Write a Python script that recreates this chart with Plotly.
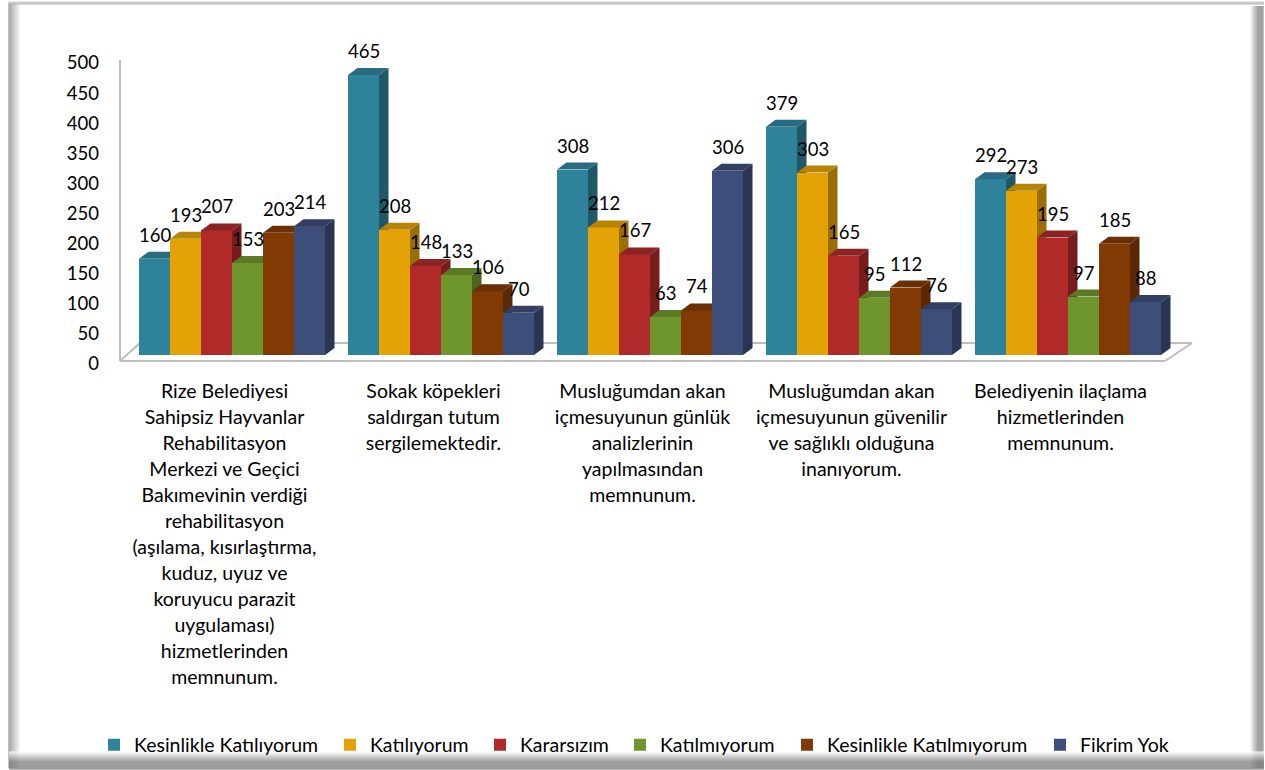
import plotly.graph_objects as go

categories = [
    ["Rize Belediyesi", "Sahipsiz Hayvanlar", "Rehabilitasyon", "Merkezi ve Geçici", "Bakımevinin verdiği", "rehabilitasyon",
     "(aşılama, kısırlaştırma,", "kuduz, uyuz ve", "koruyucu parazit", "uygulaması)", "hizmetlerinden", "memnunum."],
    ["Sokak köpekleri", "saldırgan tutum", "sergilemektedir."],
    ["Musluğumdan akan", "içmesuyunun günlük", "analizlerinin", "yapılmasından", "memnunum."],
    ["Musluğumdan akan", "içmesuyunun güvenilir", "ve sağlıklı olduğuna", "inanıyorum."],
    ["Belediyenin ilaçlama", "hizmetlerinden", "memnunum."],
]
kesinlikle_katiliyorum = [160, 465, 308, 379, 292]
katiliyorum = [193, 208, 212, 303, 273]
kararsizim = [207, 148, 167, 165, 195]
katilmiyorum = [153, 133, 63, 95, 97]
kesinlikle_katilmiyorum = [203, 106, 74, 112, 185]
fikrim_yok = [214, 70, 306, 76, 88]

series_names = ["Kesinlikle Katılıyorum", "Katılıyorum", "Kararsızım", "Katılmıyorum", "Kesinlikle Katılmıyorum", "Fikrim Yok"]
series_values = [kesinlikle_katiliyorum, katiliyorum, kararsizim, katilmiyorum, kesinlikle_katilmiyorum, fikrim_yok]
y_ticks = [0, 50, 100, 150, 200, 250, 300, 350, 400, 450, 500]

front_colors = ["#2E8299", "#E3A206", "#B02A2A", "#6F962E", "#823A04", "#3E4E7B"]
top_colors = ["#276C80", "#B78405", "#8D2222", "#5A7A25", "#6A2F03", "#323F63"]
side_colors = ["#1F5868", "#9A6E05", "#771C1C", "#4C6620", "#5A2803", "#2A3553"]
legend_text_px = [134, 370, 520, 660, 827, 1080]

W, H = 1265, 770
PL, PR, PT, PB = 120, 1195, 63, 364          # plot frame in pixels
CAT_PX = 209.0
PX_PER_UNIT = (PB - PT) / 500
FONT = "Lato, Carlito, sans-serif"
TEXT = "#000000"

x_range = [-0.5, -0.5 + (PR - PL) / CAT_PX]
BAR_W = 31.0 / CAT_PX
GROUP_START = (139 - 224.5) / CAT_PX
DX = 9.5 / CAT_PX
DY = 7.0 / PX_PER_UNIT
BASE_SHIFT = 9.0 / PX_PER_UNIT               # bars stand on the middle of the floor
Y_DOMAIN = [1 - PB / H, 1 - PT / H]

fig = go.Figure()
positions = list(range(len(categories)))

# keeps the left value axis alive
fig.add_trace(go.Scatter(x=[positions[0]] * len(y_ticks), y=y_ticks, mode="none", xaxis="x", yaxis="y",
                         showlegend=False, hoverinfo="skip"))

for s, (name, vals) in enumerate(zip(series_names, series_values)):
    ya = f"y{s + 2}"
    off = GROUP_START + s * BAR_W
    fig.add_trace(go.Bar(
        x=positions, y=vals, name=name, yaxis=ya, xaxis="x",
        width=BAR_W, offset=off, marker=dict(color=front_colors[s], line=dict(width=0)),
        showlegend=True, hoverinfo="name+y", legend="legend" if s == 0 else f"legend{s + 1}",
    ))
    top_x, top_y, side_x, side_y = [], [], [], []
    for p, v in zip(positions, vals):
        xl, xr = p + off, p + off + BAR_W
        top_x += [xl, xl + DX, xr + DX, xr, xl, None]
        top_y += [v, v + DY, v + DY, v, v, None]
        side_x += [xr, xr + DX, xr + DX, xr, xr, None]
        side_y += [0, DY, v + DY, v, 0, None]
    for xs, ys, col in ((side_x, side_y, side_colors[s]), (top_x, top_y, top_colors[s])):
        fig.add_trace(go.Scatter(
            x=xs, y=ys, yaxis=ya, xaxis="x", mode="lines", fill="toself",
            fillcolor=col, line=dict(width=0, color=col), showlegend=False, hoverinfo="skip",
        ))

# value labels
for s, vals in enumerate(series_values):
    off = GROUP_START + s * BAR_W + BAR_W / 2
    for p, v in zip(positions, vals):
        fig.add_annotation(
            x=p + off, y=v, xref="x", yref="y7", text=str(v), showarrow=False,
            yanchor="middle", yshift=24, font=dict(family=FONT, size=18.5, color=TEXT),
        )

layout = dict(
    width=W, height=H, margin=dict(l=0, r=0, t=0, b=0, autoexpand=False),
    paper_bgcolor="#FFFFFF", plot_bgcolor="rgba(0,0,0,0)",
    barmode="overlay", bargap=0,
    font=dict(family=FONT, size=18, color=TEXT),
    xaxis=dict(
        domain=[PL / W, PR / W], range=x_range, tickmode="array", tickvals=positions,
        ticktext=["<br>".join(f'<span style="font-size:19.5px">{l}</span>' for l in c) for c in categories],
        tickfont=dict(family=FONT, size=20, color=TEXT), tickangle=0,
        showgrid=False, zeroline=False, showline=False, ticks="", ticklabelstandoff=13,
        anchor="y",
    ),
    yaxis=dict(
        domain=Y_DOMAIN, range=[0, 500], tickmode="array", tickvals=y_ticks,
        ticktext=[str(t) for t in y_ticks], tickfont=dict(family=FONT, size=18.5, color=TEXT),
        showgrid=False, zeroline=False, showline=False, ticks="", ticklabelstandoff=20,
    ),
    showlegend=True,
)
for s in range(len(series_names)):
    layout[f"yaxis{s + 2}"] = dict(
        overlaying="y", range=[-BASE_SHIFT, 500 - BASE_SHIFT], visible=False, domain=Y_DOMAIN,
    )
    layout["legend" if s == 0 else f"legend{s + 1}"] = dict(
        orientation="h", x=(legend_text_px[s] - 40) / W, xanchor="left", y=1 - 745 / H, yanchor="middle",
        font=dict(family=FONT, size=19.5, color=TEXT), bgcolor="rgba(0,0,0,0)",
    )
fig.update_layout(**layout)

def px_line(x0, y0, x1, y1, col, w):
    return dict(type="line", xref="paper", yref="paper", layer="below",
                x0=x0 / W, x1=x1 / W, y0=1 - y0 / H, y1=1 - y1 / H,
                line=dict(color=col, width=w))

shapes = []
# floor and wall edges
AX = "#BDBDBD"
shapes += [px_line(120, 60, 120, 361, AX, 2), px_line(120, 361, 1165, 361, AX, 2),
           px_line(1165, 361, 1192, 343, AX, 2), px_line(1192, 343, 140, 343, AX, 2),
           px_line(140, 343, 120, 361, AX, 2)]

def lerp_gray(a, b, t):
    g = int(round(a + (b - a) * t))
    return f"rgb({g},{g},{g})"

# bevelled picture frame
for i in range(9, 22):          # left
    shapes.append(px_line(i, 4, i, 768, lerp_gray(135, 255, (i - 9) / 12), 1))
for i in range(1250, 1264):     # right
    shapes.append(px_line(i, 6, i, 768, lerp_gray(255, 130, min((i - 1250) / 8, 1)), 1))
for i in range(752, 770):       # bottom
    shapes.append(px_line(9, i, 1264, i, lerp_gray(255, 125, min((i - 752) / 10, 1)), 1))
for i, c in ((3, "#9A9A9A"), (4, "#B5B5B5"), (2, "#D0D0D0")):  # top
    shapes.append(px_line(8, i, 1264, i, c, 1))
fig.update_layout(shapes=shapes)

fig.write_html("out.html", config=dict(displayModeBar=False),
               post_script="document.body.style.margin='0';document.body.style.overflow='hidden';")
